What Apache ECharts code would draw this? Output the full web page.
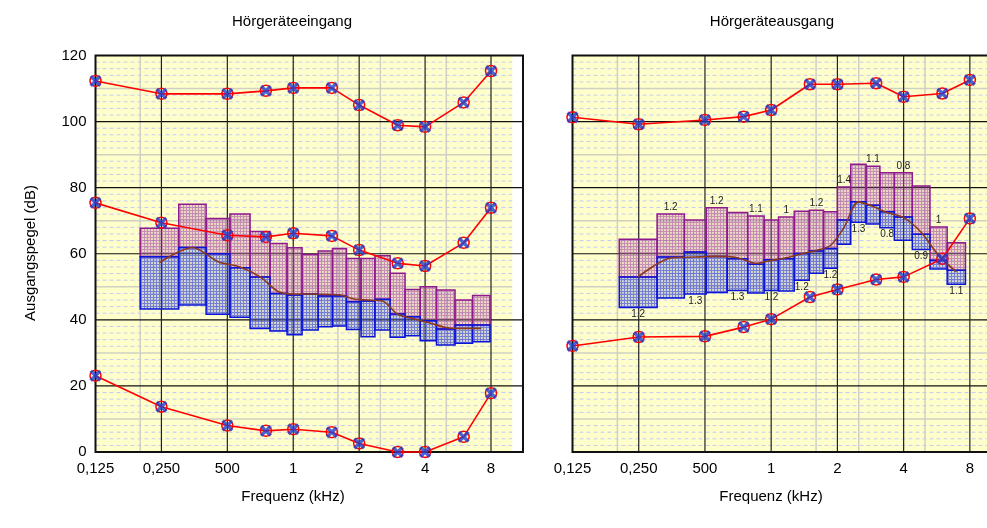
<!DOCTYPE html>
<html>
<head>
<meta charset="utf-8">
<script src="https://cdn.jsdelivr.net/npm/echarts@6/dist/echarts.min.js"></script>
<style>
html, body { margin: 0; padding: 0; background: #fff; }
#chart { width: 987px; height: 528px; }
</style>
</head>
<body>
<div id="chart"></div>
<script>
// Audiometric test frequencies (kHz)
const freqs = [0.125, 0.25, 0.5, 0.75, 1, 1.5, 2, 3, 4, 6, 8];
const xTickValues = [0.125, 0.25, 0.5, 1, 2, 4, 8];
const xTickLabels = ['0,125', '0,250', '500', '1', '2', '4', '8'];

// Hörgeräteeingang: three threshold curves (dB)
const inUpper  = [112.3, 108.4, 108.4, 109.3, 110.2, 110.2, 105.0, 98.9, 98.4, 105.8, 115.3];
const inMiddle = [75.4, 69.4, 65.6, 65.1, 66.2, 65.4, 61.1, 57.1, 56.3, 63.3, 73.9];
const inLower  = [23.1, 13.7, 8.0, 6.4, 6.9, 6.0, 2.6, 0, 0, 4.6, 17.8];

// Hörgeräteausgang: two curves (dB)
const outUpper = [101.3, 99.2, 100.5, 101.5, 103.5, 111.3, 111.3, 111.6, 107.5, 108.5, 112.6];
const outLower = [32.1, 34.8, 35.0, 37.8, 40.2, 46.9, 49.2, 52.2, 53.0, 58.5, 70.7];

// Frequency bands (kHz edges) with level ranges: low / median boundary / high
const inBandEdges = [0.2, 0.3, 0.4, 0.514, 0.635, 0.783, 0.937, 1.097, 1.3, 1.51, 1.75, 2.04, 2.36, 2.77, 3.24, 3.8, 4.51, 5.48, 6.59, 7.92];
const inBandHigh = [67.7, 75.0, 70.7, 72.0, 66.7, 63.1, 61.8, 59.8, 60.8, 61.6, 58.6, 58.6, 59.4, 54.1, 49.2, 50.0, 49.0, 46.0, 47.4];
const inBandMid  = [59.1, 61.9, 60.0, 55.8, 53.0, 48.0, 47.5, 47.8, 47.2, 47.2, 45.5, 45.7, 46.2, 41.8, 40.9, 39.7, 37.2, 38.4, 38.4];
const inBandLow  = [43.3, 44.5, 41.7, 40.8, 37.4, 36.6, 35.5, 36.9, 37.9, 38.1, 37.1, 34.9, 36.9, 34.7, 35.2, 33.7, 32.4, 32.9, 33.4];
const inMedian   = [57.3, 61.9, 57.6, 56.0, 53.0, 48.5, 47.8, 47.8, 47.7, 47.6, 46.3, 46.0, 45.7, 41.7, 40.4, 39.2, 37.7, 37.4, 37.4];

const outBandEdges = [0.204, 0.303, 0.403, 0.507, 0.631, 0.782, 0.929, 1.08, 1.273, 1.49, 1.73, 2.0, 2.3, 2.7, 3.12, 3.63, 4.38, 5.27, 6.31, 7.64];
const outBandHigh = [64.4, 72.0, 70.2, 73.9, 72.5, 71.4, 70.2, 71.1, 72.9, 73.2, 72.7, 80.2, 87.1, 86.5, 84.5, 84.5, 80.5, 68.1, 63.3];
const outBandMid  = [53.0, 59.0, 60.5, 59.2, 58.5, 56.8, 58.2, 58.5, 60.1, 60.8, 61.6, 70.2, 75.7, 74.7, 72.7, 71.1, 65.9, 58.0, 55.0];
const outBandLow  = [43.7, 46.6, 47.8, 48.3, 48.9, 48.1, 48.9, 48.7, 52.0, 54.1, 55.6, 62.9, 69.5, 69.0, 67.9, 64.1, 61.3, 55.4, 50.8];
const outMedian   = [53.0, 58.7, 59.0, 59.2, 58.8, 57.1, 58.0, 58.8, 60.0, 61.0, 62.5, 68.0, 75.7, 74.3, 72.5, 71.0, 66.5, 59.5, 54.5];
const outTopLabels    = ['', '1.2', '', '1.2', '', '1.1', '', '1', '', '1.2', '', '1.4', '', '1.1', '', '0.8', '', '1', ''];
const outBottomLabels = ['1.2', '', '1.3', '', '1.3', '', '1.2', '', '1.2', '', '1.2', '', '1.3', '', '0.8', '', '0.9', '', '1.1'];

// Axis extents and the paper grid
const X_MIN = 0.125, X_MAX = 11.2, PAPER_MAX = 10, Y_MAX = 120;
const octaveLines = [0.25, 0.5, 1, 2, 4, 8];
const minorFreqLines = [0.2, 1.6, 2.5, 5];

const FONT = '"Liberation Sans", Arial, sans-serif';
const RED = '#FF0000';
const BLUE = '#1F3FCF';
const BROWN = '#8A3A1E';

const chart = echarts.init(document.getElementById('chart'), null, { renderer: 'canvas' });

// Small repeating mesh used as the band fill texture
function meshPattern(base, line) {
  const cv = document.createElement('canvas');
  cv.width = 3; cv.height = 3;
  const g = cv.getContext('2d');
  g.fillStyle = base;
  g.fillRect(0, 0, 3, 3);
  g.fillStyle = line;
  g.fillRect(0, 0, 1, 3);
  g.fillRect(1, 0, 2, 1);
  return { image: cv, repeat: 'repeat' };
}

// Yellow audiogram paper with dashed 2 dB rules, light 10 dB rules and black 20 dB / octave rules
function paperItem(params, api) {
  const c = (x, y) => api.coord([x, y]);
  const kids = [];
  const tl = c(X_MIN, Y_MAX), br = c(PAPER_MAX, 0);
  kids.push({ type: 'rect', shape: { x: tl[0], y: tl[1], width: br[0] - tl[0], height: br[1] - tl[1] }, style: { fill: '#FFFFCC' } });
  for (let v = 2; v < Y_MAX; v += 2) {
    if (v % 10 === 0) continue;
    const a = c(X_MIN, v), b = c(PAPER_MAX, v);
    kids.push({ type: 'line', shape: { x1: a[0], y1: a[1], x2: b[0], y2: b[1] }, style: { stroke: '#C6CAF0', lineWidth: 1, lineDash: [4, 3] } });
  }
  for (let v = 10; v < Y_MAX; v += 20) {
    const a = c(X_MIN, v), b = c(PAPER_MAX, v);
    kids.push({ type: 'line', shape: { x1: a[0], y1: a[1], x2: b[0], y2: b[1] }, style: { stroke: '#CFCFC4', lineWidth: 1.5 } });
  }
  minorFreqLines.forEach(f => {
    const a = c(f, 0), b = c(f, Y_MAX);
    kids.push({ type: 'line', shape: { x1: a[0], y1: a[1], x2: b[0], y2: b[1] }, style: { stroke: '#CFCFC4', lineWidth: 1.5 } });
  });
  for (let v = 20; v < Y_MAX; v += 20) {
    const a = c(X_MIN, v), b = c(X_MAX, v);
    kids.push({ type: 'line', shape: { x1: a[0], y1: a[1], x2: b[0], y2: b[1] }, style: { stroke: '#111', lineWidth: 1.2 } });
  }
  octaveLines.forEach(f => {
    const a = c(f, 0), b = c(f, Y_MAX);
    kids.push({ type: 'line', shape: { x1: a[0], y1: a[1], x2: b[0], y2: b[1] }, style: { stroke: '#222', lineWidth: 1.2 } });
  });
  const fr = c(X_MAX, 0);
  kids.push({ type: 'rect', shape: { x: tl[0], y: tl[1], width: fr[0] - tl[0], height: fr[1] - tl[1] }, style: { fill: 'none', stroke: '#111', lineWidth: 2 } });
  return { type: 'group', children: kids };
}

function paperSeries(idx) {
  return { type: 'custom', xAxisIndex: idx, yAxisIndex: idx, z: 1, silent: true, clip: false, data: [[1, 60]], renderItem: paperItem };
}

function bandSeries(idx, edges, lows, highs, fill, stroke) {
  return {
    type: 'custom', xAxisIndex: idx, yAxisIndex: idx, z: 2, silent: true,
    data: lows.map((lo, i) => [edges[i], edges[i + 1], lo, highs[i]]),
    encode: { x: [0, 1], y: [2, 3] },
    renderItem: (params, api) => {
      const a = api.coord([api.value(0), api.value(3)]);
      const b = api.coord([api.value(1), api.value(2)]);
      return { type: 'rect', shape: { x: a[0], y: a[1], width: b[0] - a[0], height: b[1] - a[1] }, style: { fill, stroke, lineWidth: 1.5 } };
    }
  };
}

function medianSeries(idx, edges, values) {
  return {
    type: 'line', xAxisIndex: idx, yAxisIndex: idx, z: 3, silent: true, symbol: 'none', smooth: 0.3,
    lineStyle: { color: BROWN, width: 1.6 },
    data: values.map((v, i) => [Math.sqrt(edges[i] * edges[i + 1]), v])
  };
}

function curveSeries(idx, values) {
  return {
    type: 'line', xAxisIndex: idx, yAxisIndex: idx, z: 4, silent: true, clip: false,
    symbol: 'circle', symbolSize: 11,
    itemStyle: { color: 'rgba(0,0,0,0)', borderColor: RED, borderWidth: 1.5 },
    lineStyle: { color: RED, width: 1.6 },
    data: freqs.map((f, i) => [f, values[i]])
  };
}

const crossPath = 'path://M2,0 L5,3 L8,0 L10,2 L7,5 L10,8 L8,10 L5,7 L2,10 L0,8 L3,5 L0,2 Z';
function crossSeries(idx, values) {
  return {
    type: 'scatter', xAxisIndex: idx, yAxisIndex: idx, z: 5, silent: true, clip: false,
    symbol: crossPath, symbolSize: 12, itemStyle: { color: BLUE },
    data: freqs.map((f, i) => [f, values[i]])
  };
}

const labelSeries = {
  type: 'custom', xAxisIndex: 1, yAxisIndex: 1, z: 6, silent: true,
  data: outBandLow.map((lo, i) => [outBandEdges[i], outBandEdges[i + 1], lo, outBandHigh[i]]),
  encode: { x: [0, 1], y: [2, 3] },
  renderItem: (params, api) => {
    const i = params.dataIndex;
    const x0 = api.coord([api.value(0), 0])[0], x1 = api.coord([api.value(1), 0])[0];
    const xc = (x0 + x1) / 2;
    const yLow = api.coord([api.value(0), api.value(2)])[1];
    const yHigh = api.coord([api.value(0), api.value(3)])[1];
    const kids = [];
    const st = t => ({ text: t, fill: '#222', font: '10px ' + FONT, align: 'center', verticalAlign: 'middle' });
    if (outTopLabels[i]) kids.push({ type: 'text', x: xc, y: yHigh - 7, style: st(outTopLabels[i]) });
    if (outBottomLabels[i]) kids.push({ type: 'text', x: xc, y: yLow + 7, style: st(outBottomLabels[i]) });
    return { type: 'group', children: kids };
  }
};

function xAxisCfg(idx) {
  return {
    type: 'log', logBase: 2, gridIndex: idx, min: X_MIN, max: X_MAX,
    axisLine: { show: false }, axisTick: { show: false }, splitLine: { show: false },
    axisLabel: {
      color: '#000', fontSize: 15, fontFamily: FONT, margin: 9,
      formatter: v => {
        const k = xTickValues.findIndex(t => Math.abs(t - v) < 1e-6);
        return k >= 0 ? xTickLabels[k] : '';
      }
    }
  };
}

function yAxisCfg(idx, showLabels) {
  return {
    type: 'value', gridIndex: idx, min: 0, max: Y_MAX, interval: 20,
    axisLine: { show: false }, axisTick: { show: false }, splitLine: { show: false },
    axisLabel: { show: showLabels, color: '#000', fontSize: 15, fontFamily: FONT, margin: 9 }
  };
}

const purpleFill = meshPattern('rgba(180,100,170,0.26)', 'rgba(150,45,150,0.42)');
const blueFill = meshPattern('rgba(80,90,220,0.26)', 'rgba(25,40,210,0.48)');
const purpleStroke = '#8E1A8E';
const blueStroke = '#0A14D8';

const textStyle = (t, extra) => Object.assign({ text: t, fill: '#000', font: '15px ' + FONT, align: 'center', verticalAlign: 'middle' }, extra || {});

chart.setOption({
  animation: false,
  backgroundColor: '#fff',
  grid: [
    { left: 95.5, top: 55.5, width: 427.5, height: 396.5, outerBoundsMode: 'none', containLabel: false },
    { left: 572.5, top: 55.5, width: 429.5, height: 396.5, outerBoundsMode: 'none', containLabel: false }
  ],
  xAxis: [xAxisCfg(0), xAxisCfg(1)],
  yAxis: [yAxisCfg(0, true), yAxisCfg(1, false)],
  graphic: [
    { type: 'text', x: 292, y: 22, style: textStyle('Hörgeräteeingang') },
    { type: 'text', x: 772, y: 22, style: textStyle('Hörgeräteausgang') },
    { type: 'text', x: 293, y: 497, style: textStyle('Frequenz (kHz)') },
    { type: 'text', x: 771, y: 497, style: textStyle('Frequenz (kHz)') },
    { type: 'text', x: 31, y: 253, rotation: Math.PI / 2, style: textStyle('Ausgangspegel (dB)') }
  ],
  series: [
    paperSeries(0),
    paperSeries(1),
    bandSeries(0, inBandEdges, inBandMid, inBandHigh, purpleFill, purpleStroke),
    bandSeries(0, inBandEdges, inBandLow, inBandMid, blueFill, blueStroke),
    bandSeries(1, outBandEdges, outBandMid, outBandHigh, purpleFill, purpleStroke),
    bandSeries(1, outBandEdges, outBandLow, outBandMid, blueFill, blueStroke),
    medianSeries(0, inBandEdges, inMedian),
    medianSeries(1, outBandEdges, outMedian),
    curveSeries(0, inUpper),
    curveSeries(0, inMiddle),
    curveSeries(0, inLower),
    curveSeries(1, outUpper),
    curveSeries(1, outLower),
    crossSeries(0, inUpper),
    crossSeries(0, inMiddle),
    crossSeries(0, inLower),
    crossSeries(1, outUpper),
    crossSeries(1, outLower),
    labelSeries
  ]
});
</script>
</body>
</html>
